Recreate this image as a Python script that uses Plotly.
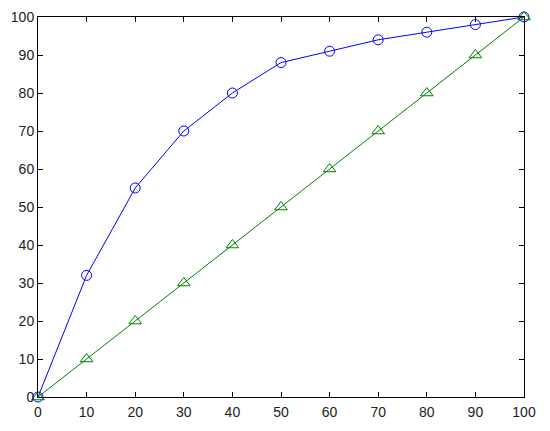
import plotly.graph_objects as go

# x positions shared by both curves
x_vals = [0, 10, 20, 30, 40, 50, 60, 70, 80, 90, 100]
blue_vals = [0, 32, 55, 70, 80, 88, 91, 94, 96, 98, 100]
green_vals = [0, 10, 20, 30, 40, 50, 60, 70, 80, 90, 100]
tick_vals = [0, 10, 20, 30, 40, 50, 60, 70, 80, 90, 100]

fig = go.Figure()

fig.add_trace(go.Scatter(
    x=x_vals, y=blue_vals, mode="lines+markers",
    line=dict(color="#0000ff", width=1),
    marker=dict(symbol="circle-open", size=10, color="#0000ff", line=dict(width=1)),
    cliponaxis=False,
))
fig.add_trace(go.Scatter(
    x=x_vals, y=green_vals, mode="lines+markers",
    line=dict(color="#008000", width=1),
    marker=dict(symbol="triangle-up-open", size=11, color="#008000", line=dict(width=1)),
    cliponaxis=False,
))

axis_style = dict(
    range=[0, 100], tickvals=tick_vals, ticks="inside", ticklen=5,
    tickcolor="black", tickwidth=1, showgrid=False, zeroline=False,
    showline=True, linecolor="black", linewidth=1, mirror="ticks",
    tickfont=dict(family="Liberation Sans, Arial", size=14, color="#222222"),
    automargin=False,
)

# page body has an 8px default margin, so the figure is sized to sit inside it
fig.update_layout(
    width=534, height=415,
    margin=dict(l=30, r=18, t=9, b=26),
    plot_bgcolor="white", paper_bgcolor="white",
    showlegend=False,
    xaxis=dict(axis_style, ticklabelstandoff=2),
    yaxis=dict(axis_style, ticklabelstandoff=0),
)

fig.write_html("out.html")
